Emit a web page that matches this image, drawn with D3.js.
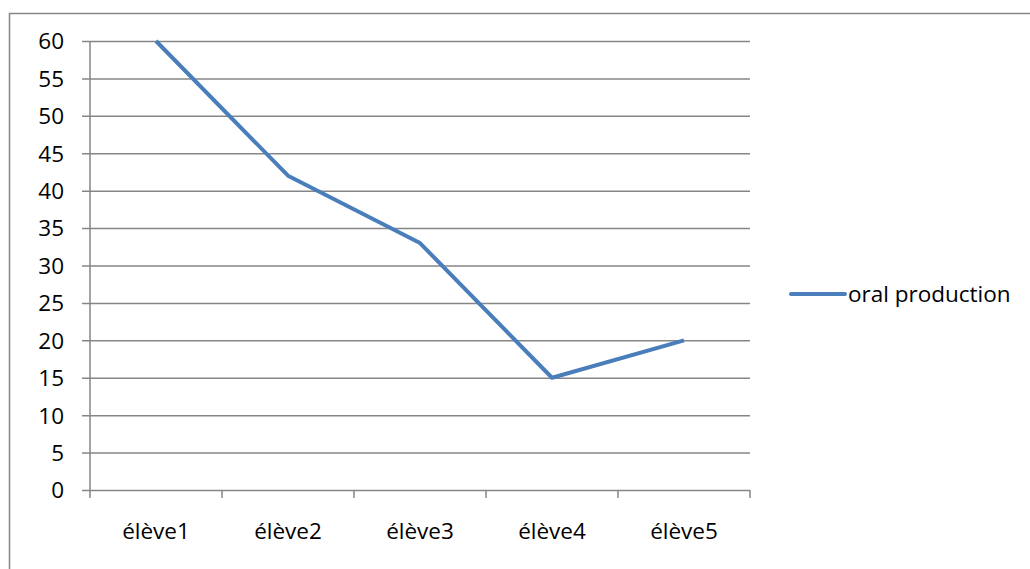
<!DOCTYPE html>
<html>
<head>
<meta charset="utf-8">
<script src="https://cdn.jsdelivr.net/npm/d3@7"></script>
<style>
  html, body { margin: 0; padding: 0; background: #fff; }
  svg { display: block; font-family: "Open Sans", Lato, sans-serif; }
</style>
</head>
<body>
<svg id="chart" width="1030" height="569"></svg>
<script>
const categories = ["élève1", "élève2", "élève3", "élève4", "élève5"];
const seriesName = "oral production";
const values = [60, 42, 33, 15, 20];
const yTicks = [0, 5, 10, 15, 20, 25, 30, 35, 40, 45, 50, 55, 60];

const svg = d3.select("#chart");
const plot = { left: 90, right: 750, top: 41, bottom: 490 };
const gridColor = "#868686";
const lineColor = "#4a7ebb";
const fontFamily = "'Open Sans', Lato, sans-serif";
const fontSize = "22.5px";

// outer chart frame
svg.append("rect")
  .attr("x", 9.5).attr("y", 13.5)
  .attr("width", 1040).attr("height", 600)
  .attr("fill", "none").attr("stroke", gridColor).attr("stroke-width", 1.5);

const x = d3.scaleBand().domain(categories).range([plot.left, plot.right]);
const y = d3.scaleLinear().domain([0, 60]).range([plot.bottom, plot.top]);

// horizontal gridlines with tick labels on the left
const yAxis = d3.axisLeft(y).tickValues(yTicks).tickSize(-(plot.right - plot.left + 8)).tickPadding(0);
const gy = svg.append("g").attr("transform", `translate(${plot.left - 8},0)`).call(yAxis)
  .attr("font-family", fontFamily).attr("font-size", fontSize);
gy.select(".domain").remove();
gy.selectAll(".tick line").attr("stroke", gridColor).attr("stroke-width", 1.5);
gy.selectAll(".tick text").attr("fill", "#000")
  .attr("x", -18).attr("dy", "0.35em");

// vertical axis line
svg.append("line")
  .attr("x1", plot.left).attr("x2", plot.left)
  .attr("y1", plot.top).attr("y2", plot.bottom)
  .attr("stroke", gridColor).attr("stroke-width", 1.5);

// category axis with boundary tick marks
const bounds = categories.map(c => x(c)).concat([plot.right]);
svg.append("g").selectAll("line").data(bounds).join("line")
  .attr("x1", d => d).attr("x2", d => d)
  .attr("y1", plot.bottom).attr("y2", plot.bottom + 8)
  .attr("stroke", gridColor).attr("stroke-width", 1.5);

svg.append("g").attr("font-family", fontFamily).attr("font-size", fontSize)
  .selectAll("text").data(categories).join("text")
  .attr("x", d => x(d) + x.bandwidth() / 2)
  .attr("y", 531)
  .attr("dy", "0.35em")
  .attr("text-anchor", "middle")
  .text(d => d);

// data line
const line = d3.line()
  .x((d, i) => x(categories[i]) + x.bandwidth() / 2)
  .y(d => y(d));
svg.append("path")
  .datum(values)
  .attr("d", line)
  .attr("fill", "none")
  .attr("stroke", lineColor)
  .attr("stroke-width", 4)
  .attr("stroke-linejoin", "round");

// legend
const ly = 294;
svg.append("line")
  .attr("x1", 791).attr("x2", 845).attr("y1", ly).attr("y2", ly)
  .attr("stroke", lineColor).attr("stroke-width", 4).attr("stroke-linecap", "round");
svg.append("text")
  .attr("x", 848).attr("y", ly).attr("dy", "0.35em")
  .attr("font-family", fontFamily).attr("font-size", fontSize)
  .text(seriesName);
</script>
</body>
</html>
